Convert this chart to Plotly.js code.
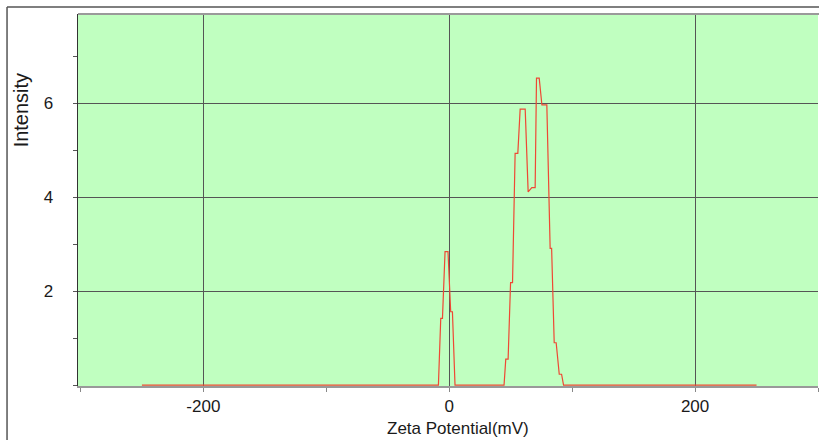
<!DOCTYPE html>
<html>
<head>
<meta charset="utf-8">
<script src="https://cdn.plot.ly/plotly-3.0.1.min.js"></script>
<style>
  html, body { margin: 0; padding: 0; background: #ffffff; }
  #chart { width: 819px; height: 440px; }
</style>
</head>
<body>
<div id="chart"></div>
<script>
// Zeta potential distribution (mV) and measured intensity
const zetaMv = [-250, -8.8, -6.9, -5.5, -3.4, -1.0, 1.2, 2.6, 4.7,
  44.6, 46.0, 47.9, 49.9, 51.5, 53.6, 55.8, 57.7, 61.8, 64.2, 67.2, 69.9,
  71.0, 73.2, 75.4, 79.4, 82.1, 83.3, 85.4, 87.0, 89.5, 91.4, 93.0, 250];
const intensity = [0, 0, 1.42, 1.42, 2.84, 2.84, 1.56, 1.56, 0,
  0, 0.55, 0.55, 2.18, 2.18, 4.93, 4.93, 5.87, 5.87, 4.11, 4.2, 4.2,
  6.53, 6.53, 5.96, 5.96, 2.91, 2.91, 0.9, 0.9, 0.23, 0.23, 0, 0];

const xTickVals = [-200, 0, 200];
const xTickText = ['-200', '0', '200'];
const yTickVals = [2, 4, 6];
const yTickText = ['2', '4', '6'];

const font = { family: 'Liberation Sans, Arial, sans-serif', size: 16, color: '#1a1a1a' };

const trace = {
  x: zetaMv,
  y: intensity,
  type: 'scatter',
  mode: 'lines',
  line: { color: 'rgb(238,72,52)', width: 1.2 },
  hoverinfo: 'x+y'
};

const layout = {
  width: 819,
  height: 440,
  margin: { l: 78, r: 1, t: 14, b: 54 },
  paper_bgcolor: '#ffffff',
  plot_bgcolor: 'rgb(192,255,192)',
  showlegend: false,
  font: font,
  xaxis: {
    range: [-302, 300],
    tickmode: 'array',
    tickvals: xTickVals,
    ticktext: xTickText,
    ticks: 'outside',
    ticklen: 4,
    tickcolor: '#888',
    ticklabelstandoff: 0,
    showgrid: true,
    gridcolor: '#555',
    gridwidth: 1,
    zeroline: false,
    showline: true,
    linecolor: '#999',
    linewidth: 1.5,
    layer: 'below traces',
    minor: { dtick: 100, tick0: 0, ticks: 'outside', ticklen: 4, tickcolor: '#888', showgrid: false },
    tickfont: { family: font.family, size: 17, color: '#1a1a1a' }
  },
  yaxis: {
    range: [-0.02, 7.895],
    tickmode: 'array',
    tickvals: yTickVals,
    ticktext: yTickText,
    ticks: 'outside',
    ticklen: 4,
    tickcolor: '#555',
    ticklabelstandoff: 16,
    showgrid: true,
    gridcolor: '#555',
    gridwidth: 1,
    zeroline: false,
    showline: true,
    linecolor: '#333',
    linewidth: 1.5,
    layer: 'below traces',
    minor: { dtick: 1, tick0: 0, ticks: 'outside', ticklen: 4, tickcolor: '#555', showgrid: false },
    tickfont: { family: font.family, size: 17, color: '#1a1a1a' }
  },
  annotations: [
    {
      text: 'Zeta Potential(mV)',
      xref: 'paper', yref: 'paper',
      x: 0.5135, y: -0.113,
      xanchor: 'center', yanchor: 'middle',
      showarrow: false,
      font: { family: font.family, size: 17, color: '#1a1a1a' }
    },
    {
      text: 'Intensity',
      xref: 'paper', yref: 'paper',
      x: -0.077, y: 0.741,
      xanchor: 'center', yanchor: 'middle',
      textangle: -90,
      showarrow: false,
      font: { family: font.family, size: 20, color: '#1a1a1a' }
    }
  ],
  shapes: [
    // outer frame: top and left edges
    { type: 'line', xref: 'paper', yref: 'paper', x0: -0.0959, x1: 1.01, y0: 1.0189, y1: 1.0189,
      line: { color: '#555', width: 1.5 } },
    { type: 'line', xref: 'paper', yref: 'paper', x0: -0.0959, x1: -0.0959, y0: 1.0189, y1: -0.16,
      line: { color: '#555', width: 1.5 } },
    // top border of the plotting area
    { type: 'line', xref: 'paper', yref: 'paper', x0: 0, x1: 1.01, y0: 1, y1: 1,
      line: { color: '#9a9a9a', width: 2 } }
  ]
};

Plotly.newPlot('chart', [trace], layout, { displayModeBar: false, staticPlot: true });
</script>
</body>
</html>
